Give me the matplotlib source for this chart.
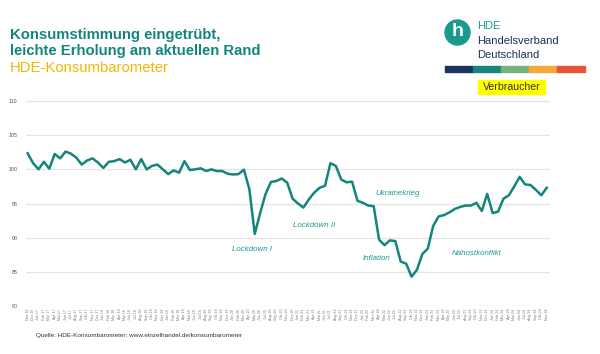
import matplotlib
matplotlib.use('Agg')
import matplotlib.pyplot as plt
from matplotlib.patches import Ellipse, Rectangle

plt.rcParams['font.family'] = ['Liberation Sans', 'DejaVu Sans']

# Monatswerte Nov 2016 - Nov 2024
monate = ['Jan', 'Feb', 'Mrz', 'Apr', 'Mai', 'Jun', 'Jul', 'Aug', 'Sep', 'Okt', 'Nov', 'Dez']
werte = [
    102.35, 100.9, 100.0, 101.1, 100.1, 102.25, 101.6, 102.6, 102.3, 101.7,
    100.7, 101.3, 101.6, 101.0, 100.2, 101.1, 101.2, 101.5, 101.0, 101.4,
    100.0, 101.5, 100.0, 100.5, 100.7, 100.0, 99.3, 99.85, 99.5, 101.2,
    99.9, 100.0, 100.15, 99.75, 100.0, 99.75, 99.75, 99.35, 99.25, 99.3,
    99.95, 97.1, 90.55, 93.6, 96.4, 98.15, 98.3, 98.65, 98.05, 95.7,
    95.0, 94.4, 95.6, 96.6, 97.3, 97.6, 100.9, 100.5, 98.5, 98.1,
    98.2, 95.4, 95.1, 94.7, 94.6, 89.7, 88.9, 89.6, 89.5, 86.5,
    86.2, 84.3, 85.3, 87.6, 88.4, 91.7, 93.1, 93.3, 93.7, 94.2,
    94.5, 94.7, 94.7, 95.1, 93.9, 96.4, 93.6, 93.8, 95.7, 96.2,
    97.5, 98.9, 97.8, 97.7, 97.0, 96.2, 97.3,
]
labels = []
m, j = 10, 16
for _ in werte:
    labels.append(f'{monate[m]} {j}')
    m += 1
    if m == 12:
        m, j = 0, j + 1

ereignisse = [('Lockdown I', 41.5, 88.2), ('Lockdown II', 53.0, 91.8),
              ('Ukrainekrieg', 68.5, 96.4), ('Inflation', 64.5, 87.0),
              ('Nahostkonflikt', 83.0, 87.7)]

teal = '#14857d'
W, H = 600, 354
fig = plt.figure(figsize=(6, 3.54), dpi=100)
fig.patch.set_facecolor('white')

ax = fig.add_axes([26 / W, 48 / H, 524 / W, 205 / H])
x = list(range(len(werte)))
ax.plot(x, werte, color=teal, linewidth=1.8, zorder=3)
ax.set_xlim(-0.31, len(werte) - 1 + 0.61)
ax.set_ylim(80, 110)
ax.set_yticks([80, 85, 90, 95, 100, 105, 110])
ax.tick_params(axis='y', length=0, labelsize=3.8, labelcolor='#555555', pad=6)
ax.set_xticks(x)
ax.set_xticklabels(labels, rotation=90, fontsize=2.6, color='#777777')
ax.tick_params(axis='x', length=0, pad=2)
ax.grid(axis='y', color='#e4e4e4', linewidth=0.9)
ax.set_axisbelow(True)
for s in ax.spines.values():
    s.set_visible(False)

for txt, xi, yi in ereignisse:
    ax.text(xi, yi, txt, color='#1b9a8f', fontsize=5.7, style='italic',
            ha='center', va='center')

# Titel
fig.text(10 / W, 1 - 35 / H, 'Konsumstimmung eingetrübt,', color=teal,
         fontsize=10.7, fontweight='bold', va='center')
fig.text(10 / W, 1 - 51 / H, 'leichte Erholung am aktuellen Rand', color=teal,
         fontsize=10.7, fontweight='bold', va='center')
fig.text(10 / W, 1 - 68 / H, 'HDE-Konsumbarometer', color='#f2b705',
         fontsize=10.7, va='center')

# Logo
fig.patches.append(Ellipse((457.5 / W, 1 - 32.5 / H), 25 / W, 25 / H, color='#1a9a8c',
                           transform=fig.transFigure, figure=fig))
fig.text(457.5 / W, 1 - 32 / H, 'h', color='white', fontsize=14, fontweight='bold',
         ha='center', va='center')
fig.text(477 / W, 1 - 26 / H, 'HDE', color='#1a9a8c', fontsize=8, va='center')
fig.text(477 / W, 1 - 40.5 / H, 'Handelsverband', color='#1c2f5a', fontsize=8, va='center')
fig.text(477 / W, 1 - 54.5 / H, 'Deutschland', color='#1c2f5a', fontsize=8, va='center')
farben = ['#1c3461', '#16867d', '#78b07b', '#f4a93a', '#e6553a']
for i, c in enumerate(farben):
    fig.patches.append(Rectangle(((445 + i * 28) / W, 1 - 72 / H), 28 / W, 6 / H,
                                 color=c, transform=fig.transFigure, figure=fig))
fig.patches.append(Rectangle((478 / W, 1 - 94 / H), 67 / W, 14 / H, color='#ffff00',
                             transform=fig.transFigure, figure=fig))
fig.text(511.5 / W, 1 - 87.5 / H, 'Verbraucher', color='#333333', fontsize=7.6,
         ha='center', va='center')

fig.text(36 / W, 1 - 335 / H, 'Quelle: HDE-Konsumbarometer; www.einzelhandel.de/konsumbarometer',
         color='#333333', fontsize=4.6, va='center')

fig.savefig('out.png', dpi=100)
